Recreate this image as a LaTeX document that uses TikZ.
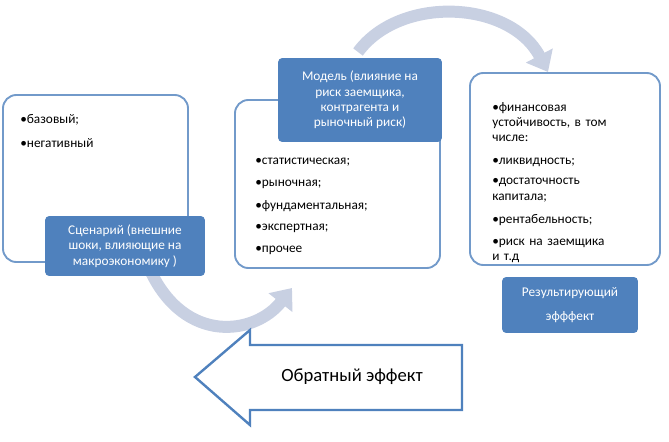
\documentclass[tikz,border=0pt]{standalone}
\usepackage{fontspec}
\setmainfont{Carlito}
\usetikzlibrary{arrows.meta}
\definecolor{offblue}{RGB}{79,129,189}
\definecolor{arrgray}{RGB}{200,208,226}
\begin{document}
\begin{tikzpicture}[x=0.0264cm, y=-0.0264cm, line width=1.4pt,
  panel/.style={draw=offblue!80, fill=white, rounded corners=10pt},
  tag/.style={fill=offblue, text=white, rounded corners=3pt, align=center,
    inner sep=2pt, font=\fontsize{10}{11.5}\selectfont},
  item/.style={anchor=west, align=left, inner sep=1pt, font=\fontsize{10}{11.5}\selectfont},
  curvearrow/.style={arrgray, line width=9pt, -{Triangle[length=14pt,width=22pt]}}]
    \useasboundingbox (0,0) rectangle (669,442);

    % curved arrows
    \draw[curvearrow] (150,270) .. controls (185,345) and (255,335) .. (292,288);
    \draw[curvearrow] (358,52) .. controls (400,-5) and (510,0) .. (548,72);

    % panels
    \draw[panel] (3,95) rectangle (188,262);
    \draw[panel] (235,100) rectangle (440,268);
    \draw[panel] (470,73) rectangle (660,265);

    % left texts
    \node[item] (l1) at (18,120) {•базовый;};
    \node[item] (l2) at (18,143) {•негативный};
    \node[tag, minimum width=120pt, minimum height=45pt] (scen) at (125,246)
      {Сценарий (внешние\\шоки, влияющие на\\макроэкономику )};

    % middle texts
    \node[tag, minimum width=123pt, minimum height=63pt] (model) at (360,100)
      {Модель (влияние на\\риск заемщика,\\контрагента и\\рыночный риск)};
    \foreach \t [count=\i] in {статистическая;, рыночная;, фундаментальная;, экспертная;, прочее}
      \node[item] (m\i) at (253,140+22*\i) {•\t};

    % right texts
    \node[item, text width=125pt] (r1) at (490,122) {•финансовая\\устойчивость, в том\\числе:};
    \node[item] (r2) at (490,162) {•ликвидность;};
    \node[item, text width=125pt] (r3) at (490,190) {•достаточность\\капитала;};
    \node[item] (r4) at (490,220) {•рентабельность;};
    \node[item, text width=125pt] (r5) at (490,251) {•риск на заемщика\\и т.д};
    \node[tag, minimum width=102pt, minimum height=42pt] (res) at (570,305)
      {Результирующий\\[6pt]эфффект};

    % feedback arrow
    \draw[offblue, line width=1.8pt, fill=white] (462,345) -- (250,345) -- (250,330)
      -- (195,377) -- (250,425) -- (250,410) -- (462,410) -- cycle;
    \node[font=\fontsize{14}{16}\selectfont] (back) at (352,377) {Обратный эффект};
\end{tikzpicture}
\end{document}
